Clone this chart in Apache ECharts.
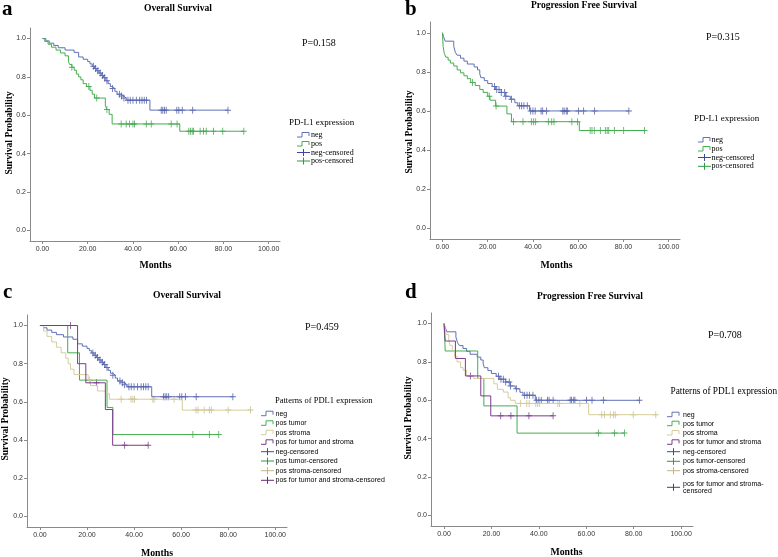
<!DOCTYPE html>
<html><head><meta charset="utf-8">
<script src="https://cdn.jsdelivr.net/npm/echarts@6/dist/echarts.min.js"></script>
<style>html,body{margin:0;padding:0;background:#fff}#c{width:778px;height:557px}</style>
</head><body><div id="c"></div>
<script>
// ---- tick labels ----
const xTicks = [0, 20, 40, 60, 80, 100];
const yTicks = [0, 0.2, 0.4, 0.6, 0.8, 1.0];

// ---- Overall survival, PD-L1 neg ----
const osNegTime = [0,1.5,3,5,7,10,14,16,18,20,21,22,23,24,25,26,27,28,29,30,31,32,33,34.5,36,37,47.5,82];
const osNegSurv = [1,0.988,0.976,0.964,0.952,0.94,0.928,0.904,0.892,0.88,0.868,0.856,0.844,0.832,0.82,0.808,0.796,0.78,0.765,0.75,0.74,0.725,0.71,0.70,0.69,0.679,0.627,0.627];
const osNegCens = [22.5,23.5,24.5,25.5,26.5,27.5,28.5,31,34,35,36,37.8,38.8,40,41.5,43,44,45,46,52.5,53.2,53.9,54.7,59.4,60.3,61.8,66.4,82];
// ---- Overall survival, PD-L1 pos ----
const osPosTime = [0,1,2.5,4,6,8,10,11.5,12,13,14,15,16,17,18,19.5,21,22,23,27.8,28.5,29.5,30.8,60.7,89];
const osPosSurv = [1,0.985,0.97,0.955,0.94,0.925,0.91,0.88,0.865,0.85,0.835,0.815,0.80,0.785,0.765,0.75,0.73,0.71,0.69,0.65,0.63,0.605,0.555,0.517,0.517];
const osPosCens = [13,20.5,24,28.5,34.8,37,38.5,40,40.7,45.9,48.1,56.9,59.5,64.7,65.4,66.2,66.8,69.7,71.2,72.4,75.6,79.7,89];
// ---- PFS, PD-L1 neg ----
const pfsNegTime = [0,0.5,1.2,5,5.7,6.5,8,9.5,11,14,15.5,16.5,17,18.5,20,22,23.5,26,28,30,32,33.3,38.5,82.4];
const pfsNegSurv = [1,0.98,0.957,0.93,0.9,0.885,0.87,0.855,0.84,0.825,0.81,0.79,0.77,0.755,0.74,0.725,0.71,0.695,0.675,0.66,0.642,0.626,0.60,0.60];
const pfsNegCens = [23,24,25,26,27.5,28,30.5,34,35,36,37.5,39,40,41,43.6,44.3,46,53.2,53.8,54.7,55.2,60.1,62.4,67.2,82.4];
// ---- PFS, PD-L1 pos ----
const pfsPosTime = [0,0.3,0.8,1.5,2.5,3.5,5,6.5,8,9.5,11,12.5,14.5,16.5,18,20,21,23.5,28.5,30.5,60.5,89.3];
const pfsPosSurv = [1,0.93,0.895,0.875,0.86,0.845,0.83,0.81,0.795,0.78,0.765,0.745,0.73,0.71,0.695,0.675,0.655,0.625,0.585,0.545,0.50,0.50];
const pfsPosCens = [13.3,20.7,23.7,31.4,35.6,39.3,40.3,41.2,46.8,48.3,49.3,57.2,59.7,65.3,66.1,67.1,69.8,72,72.8,73.5,76,80.1,89.3];
// ---- OS by pattern ----
const osTumorTime = [0,11.8,16.8,28.5,31,76];
const osTumorSurv = [1,0.857,0.714,0.571,0.429,0.429];
const osTumorCens = [65,72,76];
const osStromaTime = [0,1.5,3,5,7,9,11,12,13,14.5,20.5,21.5,24.5,28.5,29.5,60.5,89.5];
const osStromaSurv = [1,0.971,0.943,0.914,0.886,0.857,0.829,0.80,0.771,0.743,0.714,0.686,0.657,0.643,0.614,0.557,0.557];
const osStromaCens = [21,34.5,38.7,39.5,40.2,48,48.5,57,66.3,67.2,69.8,72,72.8,80,89.5];
const osBothTime = [0,16,19.5,27.8,30.9,46];
const osBothSurv = [1,0.8,0.7,0.56,0.373,0.373];
const osBothCens = [13,24,36,46];
// ---- PFS by pattern ----
const pfsTumorTime = [0,0.5,14.2,16.8,30.8,76];
const pfsTumorSurv = [1,0.857,0.714,0.571,0.429,0.429];
const pfsTumorCens = [65.1,71.9,76.1];
const pfsStromaTime = [0,0.5,1,2,2.5,3.5,4.5,5.5,7,8,9.5,12.5,21,22.5,25,27,28,30,61,89.5];
const pfsStromaSurv = [1,0.971,0.943,0.914,0.886,0.857,0.829,0.80,0.771,0.757,0.729,0.714,0.686,0.657,0.643,0.614,0.60,0.584,0.525,0.525];
const pfsStromaCens = [32.3,34.9,35.9,38.7,39.5,40.2,48,48.7,57.3,66.5,67.7,70.1,71.5,72.2,79.8,89.3];
const pfsBothTime = [0,0.5,4.8,9,15.5,19.7,46];
const pfsBothSurv = [1,0.909,0.818,0.727,0.623,0.519,0.519];
const pfsBothCens = [11.1,23.9,28.2,35.8,46];

// ---- texts ----
const panelLetters = ['a','b','c','d'];
const panelTitles = ['Overall Survival','Progression Free Survival','Overall Survival','Progression Free Survival'];
const pValues = ['P=0.158','P=0.315','P=0.459','P=0.708'];
const legendTitles = ['PD-L1 expression','PD-L1 expression','Patterns of PDL1 expression','Patterns of PDL1 expression'];
const groups2 = ['neg','pos'];
const groups4 = ['neg','pos tumor','pos stroma','pos for tumor and stroma'];
const xName = 'Months', yName = 'Survival Probability';

const SERIF = '"Liberation Serif","Times New Roman",serif';
const SANS = '"Liberation Sans",Arial,sans-serif';
const C = {neg:'#6070b8', negC:'#3b4a9c', pos:'#45ae4f', posC:'#2f9b3c', str:'#d6cd9b', strC:'#c2b67e', both:'#7d3a8c', bothC:'#6a2a7a'};
const PLUS = 'path://M3,0H4V3H7V4H4V7H3V4H0V3H3Z';

function survAt(times, survs, t){ let v = survs[0]; for (let i=0;i<times.length;i++){ if (times[i] <= t) v = survs[i]; } return v; }

const grids = [
  {left:30, top:28, width:250, height:213},
  {left:430, top:22, width:250, height:217},
  {left:27, top:315, width:260, height:212},
  {left:431, top:313, width:262, height:213}
];

const xAxes = [], yAxes = [], series = [];
grids.forEach((g, i) => {
  xAxes.push({gridIndex:i, type:'value', min:-5.5, max:105,
    axisLine:{show:true, onZero:false, lineStyle:{color:'#8a8a8a', width:1}},
    axisTick:{show:true, customValues:xTicks, length:3, lineStyle:{color:'#8a8a8a'}},
    axisLabel:{customValues:xTicks, formatter:v=>v.toFixed(2), fontSize:7, color:'#333', margin:5, fontFamily:SANS},
    splitLine:{show:false}});
  yAxes.push({gridIndex:i, type:'value', min:-0.055, max:1.055,
    axisLine:{show:true, onZero:false, lineStyle:{color:'#8a8a8a', width:1}},
    axisTick:{show:true, customValues:yTicks, length:3, lineStyle:{color:'#8a8a8a'}},
    axisLabel:{customValues:yTicks, formatter:v=>v.toFixed(1), fontSize:7, color:'#333', margin:4, fontFamily:SANS},
    splitLine:{show:false}});
});

function addKM(idx, times, survs, cens, col, colC){
  series.push({type:'line', xAxisIndex:idx, yAxisIndex:idx, step:'end', showSymbol:false, silent:true,
    lineStyle:{color:col, width:1}, data: times.map((t,k)=>[t, survs[k]])});
  series.push({type:'scatter', xAxisIndex:idx, yAxisIndex:idx, symbol:PLUS, symbolSize:[6,7], silent:true,
    itemStyle:{color:colC}, data: cens.map(t=>[t, survAt(times, survs, t)])});
}
addKM(0, osNegTime, osNegSurv, osNegCens, C.neg, C.negC);
addKM(0, osPosTime, osPosSurv, osPosCens, C.pos, C.posC);
addKM(1, pfsNegTime, pfsNegSurv, pfsNegCens, C.neg, C.negC);
addKM(1, pfsPosTime, pfsPosSurv, pfsPosCens, C.pos, C.posC);
addKM(2, osNegTime, osNegSurv, osNegCens, C.neg, C.negC);
addKM(2, osTumorTime, osTumorSurv, osTumorCens, C.pos, C.posC);
addKM(2, osStromaTime, osStromaSurv, osStromaCens, C.str, C.strC);
addKM(2, osBothTime, osBothSurv, osBothCens, C.both, C.bothC);
addKM(3, pfsNegTime, pfsNegSurv, pfsNegCens, C.neg, C.negC);
addKM(3, pfsTumorTime, pfsTumorSurv, pfsTumorCens, C.pos, C.posC);
addKM(3, pfsStromaTime, pfsStromaSurv, pfsStromaCens, C.str, C.strC);
addKM(3, pfsBothTime, pfsBothSurv, pfsBothCens, C.both, C.bothC);

// ---- graphic texts / legends ----
const G = [];
function txt(x, y, text, font, align, vAlign, rot){
  const el = {type:'text', x:x, y:y, silent:true,
    style:{x:0, y:0, text:text, font:font, fill:'#000', align:align||'left', verticalAlign:vAlign||'middle',
      textAlign:align||'left', textVerticalAlign:vAlign||'middle'}};
  if (rot) el.rotation = rot;
  G.push(el);
}
const letterPos = [[2,10],[405,10],[3,293],[405,293]];
const titlePos = [[178,8.5],[584,5.5],[187,295.5],[590,296.5]];
const pPos = [[302,43.5],[706,37],[305,327.5],[708,335]];
const xNamePos = [[155.5,265],[556.5,265],[157,553],[566.5,552]];
const yNamePos = [[9.5,133],[409.5,132],[5.5,419],[408.5,418]];
for (let i=0;i<4;i++){
  txt(letterPos[i][0], letterPos[i][1], panelLetters[i], 'bold 21px '+SERIF, 'left', 'middle');
  txt(titlePos[i][0], titlePos[i][1], panelTitles[i], 'bold 9.6px '+SERIF, 'center', 'middle');
  txt(pPos[i][0], pPos[i][1], pValues[i], '10px '+SERIF, 'left', 'middle');
  txt(xNamePos[i][0], xNamePos[i][1], xName, 'bold 9.8px '+SERIF, 'center', 'middle');
  txt(yNamePos[i][0], yNamePos[i][1], yName, 'bold 9.6px '+SERIF, 'center', 'middle', Math.PI/2);
}
function stepIcon(x0, y, col){
  G.push({type:'polyline', silent:true, shape:{points:[[x0,y+2],[x0+5,y+2],[x0+5,y-2.5],[x0+12,y-2.5],[x0+12,y+1]]},
    style:{stroke:col, fill:null, lineWidth:1}});
}
function censIcon(x0, y, col){
  G.push({type:'polyline', silent:true, shape:{points:[[x0,y],[x0+13,y]]}, style:{stroke:col, fill:null, lineWidth:1}});
  G.push({type:'polyline', silent:true, shape:{points:[[x0+6.5,y-3.5],[x0+6.5,y+3.5]]}, style:{stroke:col, fill:null, lineWidth:1}});
}
// legend a & b
const legAB = [
  {t:[289,123], rows:[135,144,152.5,161], ix:297, tx:311},
  {t:[694,118.5], rows:[140,149,157.5,166.3], ix:698, tx:711.5}
];
legAB.forEach((L, i) => {
  txt(L.t[0], L.t[1], legendTitles[i], '9px '+SERIF, 'left', 'middle');
  const cols = [C.neg, C.pos], colsC = [C.negC, C.posC];
  groups2.forEach((g, k) => {
    stepIcon(L.ix, L.rows[k], cols[k]);
    txt(L.tx, L.rows[k], g, '8px '+SERIF, 'left', 'middle');
    censIcon(L.ix, L.rows[k+2], colsC[k]);
    txt(L.tx, L.rows[k+2], g + '-censored', '8px '+SERIF, 'left', 'middle');
  });
});
// legend c & d
const legCD = [
  {t:[275,401], tf:'8.5px ', rows:[413.7,423.3,432.7,442.3,451.7,461,470.7,480.3], ix:261, tx:275.5},
  {t:[670.5,392], tf:'9.3px ', rows:[414.7,423.7,433,442.3,451.7,461.3,470.7,487.3], ix:667, tx:683}
];
legCD.forEach((L, i) => {
  txt(L.t[0], L.t[1], legendTitles[i+2], L.tf+SERIF, 'left', 'middle');
  const cols = [C.neg, C.pos, C.str, C.both], colsC = [C.negC, C.posC, C.strC, C.bothC];
  groups4.forEach((g, k) => {
    stepIcon(L.ix, L.rows[k], cols[k]);
    txt(L.tx, L.rows[k], g, '7px '+SANS, 'left', 'middle');
    censIcon(L.ix, L.rows[k+4], colsC[k]);
    let label = g + '-censored';
    if (i === 1 && k === 3) label = g + '-\ncensored';
    txt(L.tx, L.rows[k+4], label, '7px '+SANS, 'left', 'middle');
  });
});

const chart = echarts.init(document.getElementById('c'), null, {renderer:'canvas'});
chart.setOption({
  animation:false, backgroundColor:'#fff',
  grid: grids, xAxis: xAxes, yAxis: yAxes, series: series, graphic: G
});
</script></body></html>
